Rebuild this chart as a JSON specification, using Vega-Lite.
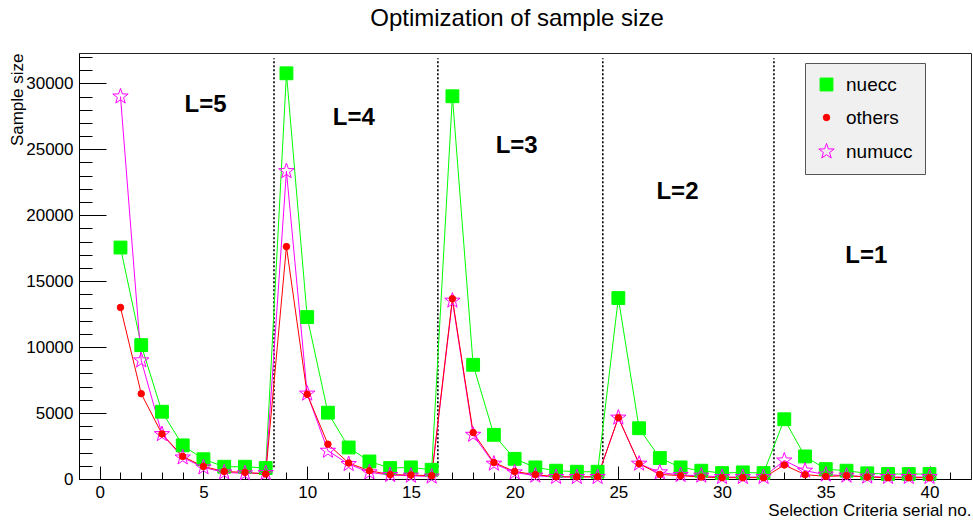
{
  "$schema": "https://vega.github.io/schema/vega-lite/v6.json",
  "width": 892,
  "height": 426,
  "autosize": {"type": "none"},
  "padding": {"left": 79, "top": 53, "right": 2, "bottom": 43},
  "background": "white",
  "title": {"text": "Optimization of sample size", "font": "Liberation Sans", "fontSize": 24, "fontWeight": "normal", "color": "#000", "offset": 22, "dx": -8},
  "datasets": {
    "series": [
      {"s": "nuecc", "x": 1, "y": 17550}, {"s": "nuecc", "x": 2, "y": 10150}, {"s": "nuecc", "x": 3, "y": 5100}, {"s": "nuecc", "x": 4, "y": 2550}, {"s": "nuecc", "x": 5, "y": 1500}, {"s": "nuecc", "x": 6, "y": 930}, {"s": "nuecc", "x": 7, "y": 930}, {"s": "nuecc", "x": 8, "y": 830},
      {"s": "nuecc", "x": 9, "y": 30760}, {"s": "nuecc", "x": 10, "y": 12280}, {"s": "nuecc", "x": 11, "y": 5030}, {"s": "nuecc", "x": 12, "y": 2390}, {"s": "nuecc", "x": 13, "y": 1330}, {"s": "nuecc", "x": 14, "y": 830}, {"s": "nuecc", "x": 15, "y": 880}, {"s": "nuecc", "x": 16, "y": 700},
      {"s": "nuecc", "x": 17, "y": 29020}, {"s": "nuecc", "x": 18, "y": 8660}, {"s": "nuecc", "x": 19, "y": 3350}, {"s": "nuecc", "x": 20, "y": 1530}, {"s": "nuecc", "x": 21, "y": 880}, {"s": "nuecc", "x": 22, "y": 630}, {"s": "nuecc", "x": 23, "y": 550}, {"s": "nuecc", "x": 24, "y": 550},
      {"s": "nuecc", "x": 25, "y": 13720}, {"s": "nuecc", "x": 26, "y": 3850}, {"s": "nuecc", "x": 27, "y": 1590}, {"s": "nuecc", "x": 28, "y": 880}, {"s": "nuecc", "x": 29, "y": 630}, {"s": "nuecc", "x": 30, "y": 450}, {"s": "nuecc", "x": 31, "y": 500}, {"s": "nuecc", "x": 32, "y": 450},
      {"s": "nuecc", "x": 33, "y": 4530}, {"s": "nuecc", "x": 34, "y": 1710}, {"s": "nuecc", "x": 35, "y": 750}, {"s": "nuecc", "x": 36, "y": 630}, {"s": "nuecc", "x": 37, "y": 430}, {"s": "nuecc", "x": 38, "y": 380}, {"s": "nuecc", "x": 39, "y": 380}, {"s": "nuecc", "x": 40, "y": 380},
      {"s": "numucc", "x": 1, "y": 29000}, {"s": "numucc", "x": 2, "y": 8990}, {"s": "numucc", "x": 3, "y": 3400}, {"s": "numucc", "x": 4, "y": 1630}, {"s": "numucc", "x": 5, "y": 880}, {"s": "numucc", "x": 6, "y": 500}, {"s": "numucc", "x": 7, "y": 430}, {"s": "numucc", "x": 8, "y": 450},
      {"s": "numucc", "x": 9, "y": 23340}, {"s": "numucc", "x": 10, "y": 6470}, {"s": "numucc", "x": 11, "y": 2140}, {"s": "numucc", "x": 12, "y": 1130}, {"s": "numucc", "x": 13, "y": 500}, {"s": "numucc", "x": 14, "y": 300}, {"s": "numucc", "x": 15, "y": 250}, {"s": "numucc", "x": 16, "y": 180},
      {"s": "numucc", "x": 17, "y": 13520}, {"s": "numucc", "x": 18, "y": 3350}, {"s": "numucc", "x": 19, "y": 1160}, {"s": "numucc", "x": 20, "y": 500}, {"s": "numucc", "x": 21, "y": 250}, {"s": "numucc", "x": 22, "y": 150}, {"s": "numucc", "x": 23, "y": 150}, {"s": "numucc", "x": 24, "y": 150},
      {"s": "numucc", "x": 25, "y": 4650}, {"s": "numucc", "x": 26, "y": 1160}, {"s": "numucc", "x": 27, "y": 500}, {"s": "numucc", "x": 28, "y": 300}, {"s": "numucc", "x": 29, "y": 250}, {"s": "numucc", "x": 30, "y": 150}, {"s": "numucc", "x": 31, "y": 150}, {"s": "numucc", "x": 32, "y": 150},
      {"s": "numucc", "x": 33, "y": 1400}, {"s": "numucc", "x": 34, "y": 630}, {"s": "numucc", "x": 35, "y": 330}, {"s": "numucc", "x": 36, "y": 250}, {"s": "numucc", "x": 37, "y": 180}, {"s": "numucc", "x": 38, "y": 150}, {"s": "numucc", "x": 39, "y": 150}, {"s": "numucc", "x": 40, "y": 150},
      {"s": "others", "x": 1, "y": 13010}, {"s": "others", "x": 2, "y": 6470}, {"s": "others", "x": 3, "y": 3420}, {"s": "others", "x": 4, "y": 1710}, {"s": "others", "x": 5, "y": 950}, {"s": "others", "x": 6, "y": 570}, {"s": "others", "x": 7, "y": 500}, {"s": "others", "x": 8, "y": 380},
      {"s": "others", "x": 9, "y": 17620}, {"s": "others", "x": 10, "y": 6420}, {"s": "others", "x": 11, "y": 2640}, {"s": "others", "x": 12, "y": 1210}, {"s": "others", "x": 13, "y": 630}, {"s": "others", "x": 14, "y": 330}, {"s": "others", "x": 15, "y": 300}, {"s": "others", "x": 16, "y": 250},
      {"s": "others", "x": 17, "y": 13670}, {"s": "others", "x": 18, "y": 3520}, {"s": "others", "x": 19, "y": 1250}, {"s": "others", "x": 20, "y": 570}, {"s": "others", "x": 21, "y": 330}, {"s": "others", "x": 22, "y": 170}, {"s": "others", "x": 23, "y": 170}, {"s": "others", "x": 24, "y": 170},
      {"s": "others", "x": 25, "y": 4650}, {"s": "others", "x": 26, "y": 1160}, {"s": "others", "x": 27, "y": 350}, {"s": "others", "x": 28, "y": 250}, {"s": "others", "x": 29, "y": 150}, {"s": "others", "x": 30, "y": 100}, {"s": "others", "x": 31, "y": 100}, {"s": "others", "x": 32, "y": 100},
      {"s": "others", "x": 33, "y": 1060}, {"s": "others", "x": 34, "y": 330}, {"s": "others", "x": 35, "y": 200}, {"s": "others", "x": 36, "y": 250}, {"s": "others", "x": 37, "y": 150}, {"s": "others", "x": 38, "y": 100}, {"s": "others", "x": 39, "y": 100}, {"s": "others", "x": 40, "y": 100}
    ],
    "dividers": [{"vx": 8.4}, {"vx": 16.3}, {"vx": 24.25}, {"vx": 32.5}],
    "labels": [
      {"lx": 5.1, "ly": 28350, "t": "L=5"},
      {"lx": 12.25, "ly": 27360, "t": "L=4"},
      {"lx": 20.1, "ly": 25230, "t": "L=3"},
      {"lx": 27.85, "ly": 21780, "t": "L=2"},
      {"lx": 36.95, "ly": 16940, "t": "L=1"}
    ]
  },
  "layer": [
    {
      "data": {"name": "dividers"},
      "mark": {"type": "rule", "color": "#000", "strokeWidth": 1.6, "strokeDash": [2, 2]},
      "encoding": {
        "x": {"field": "vx", "type": "quantitative", "scale": {"domain": [-1, 42], "nice": false, "zero": false},
          "axis": {"orient": "bottom", "values": [0, 5, 10, 15, 20, 25, 30, 35, 40], "tickSize": -13, "labelPadding": 18, "labelFontSize": 17, "labelFont": "Liberation Sans", "labelColor": "#000", "tickColor": "#000", "domainColor": "#000", "grid": false,
            "title": "Selection Criteria serial no.", "titleFont": "Liberation Sans", "titleFontSize": 17, "titleFontWeight": "normal", "titleColor": "#000", "titleAnchor": "end", "titleY": 36, "titleBaseline": "alphabetic"}},
        "y": {"datum": 900, "type": "quantitative", "scale": {"domain": [0, 32300], "nice": false},
          "axis": {"orient": "left", "values": [0, 5000, 10000, 15000, 20000, 25000, 30000], "format": "d", "tickSize": -27, "labelPadding": 33, "labelFontSize": 17, "labelFont": "Liberation Sans", "labelColor": "#000", "tickColor": "#000", "domainColor": "#000", "grid": false,
            "title": "Sample size", "titleFont": "Liberation Sans", "titleFontSize": 17, "titleFontWeight": "normal", "titleColor": "#000", "titleAnchor": "end", "titleAngle": -90, "titleX": -62, "titleY": 0, "titleAlign": "right", "titleBaseline": "middle"}},
        "y2": {"datum": 31900}
      }
    },
    {
      "data": {"name": "series"},
      "mark": {"type": "line", "strokeWidth": 1},
      "encoding": {
        "x": {"field": "x", "type": "quantitative",
          "axis": {"orient": "bottom", "values": [-1, 0, 1, 2, 3, 4, 5, 6, 7, 8, 9, 10, 11, 12, 13, 14, 15, 16, 17, 18, 19, 20, 21, 22, 23, 24, 25, 26, 27, 28, 29, 30, 31, 32, 33, 34, 35, 36, 37, 38, 39, 40, 41], "tickSize": -7, "labels": false, "domain": false, "grid": false, "title": null, "tickColor": "#000"}},
        "y": {"field": "y", "type": "quantitative",
          "axis": {"orient": "left", "values": [1000, 2000, 3000, 4000, 6000, 7000, 8000, 9000, 11000, 12000, 13000, 14000, 16000, 17000, 18000, 19000, 21000, 22000, 23000, 24000, 26000, 27000, 28000, 29000, 31000, 32000], "tickSize": -13, "labels": false, "domain": false, "grid": false, "title": null, "tickColor": "#000"}},
        "color": {"field": "s", "type": "nominal", "scale": {"range": ["#00ff00", "#ff00ff", "#ff0000"]}, "legend": null}
      }
    },
    {
      "data": {"name": "series"},
      "mark": {"type": "point", "strokeWidth": 1, "opacity": 1},
      "encoding": {
        "x": {"field": "x", "type": "quantitative", "axis": null},
        "y": {"field": "y", "type": "quantitative", "axis": null},
        "shape": {"field": "s", "type": "nominal", "title": null, "scale": {"domain": ["nuecc", "others", "numucc"], "range": ["square", "circle", "M0,-1L0.2351,-0.3236L0.9511,-0.309L0.3804,0.1236L0.5878,0.809L0,0.4L-0.5878,0.809L-0.3804,0.1236L-0.9511,-0.309L-0.2351,-0.3236Z"]}},
        "fill": {"field": "s", "type": "nominal", "title": null, "scale": {"domain": ["nuecc", "others", "numucc"], "range": ["#00ff00", "#ff0000", "transparent"]}},
        "stroke": {"field": "s", "type": "nominal", "title": null, "scale": {"domain": ["nuecc", "others", "numucc"], "range": ["#00ff00", "#ff0000", "#ff00ff"]}},
        "size": {"field": "s", "type": "nominal", "title": null, "scale": {"type": "ordinal", "domain": ["nuecc", "others", "numucc"], "range": [165, 42, 260]}}
      }
    },
    {
      "data": {"name": "labels"},
      "mark": {"type": "text", "font": "Liberation Sans", "fontSize": 24, "fontWeight": "bold", "color": "#000", "align": "center", "baseline": "middle"},
      "encoding": {
        "x": {"field": "lx", "type": "quantitative", "axis": null},
        "y": {"field": "ly", "type": "quantitative", "axis": null},
        "text": {"field": "t"}
      }
    }
  ],
  "resolve": {"axis": {"x": "independent", "y": "independent"}},
  "config": {
    "view": {"stroke": "#222", "strokeWidth": 1},
    "legend": {"orient": "none", "legendX": 726, "legendY": 10, "fillColor": "#f0f0f0", "strokeColor": "#555", "padding": 12, "labelFont": "Liberation Sans", "labelFontSize": 19, "labelColor": "#000", "labelOffset": 10, "rowPadding": 13, "symbolStrokeWidth": 1}
  }
}
